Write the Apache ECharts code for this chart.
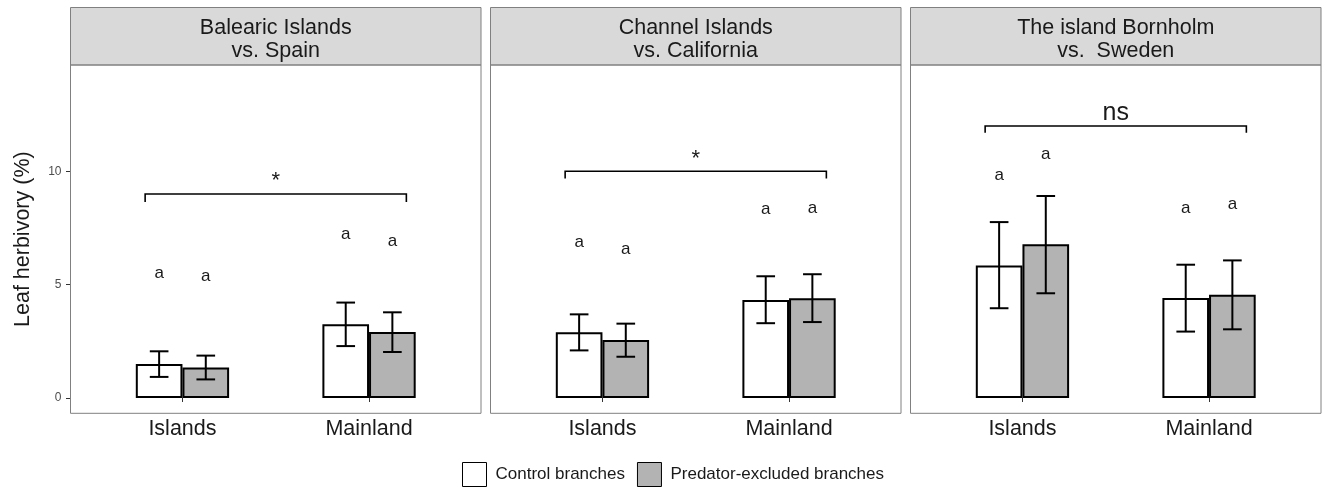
<!DOCTYPE html>
<html><head><meta charset="utf-8">
<script src="https://cdn.jsdelivr.net/npm/echarts@6/dist/echarts.min.js"></script>
<style>html,body{margin:0;padding:0;background:#fff}#c{width:1322px;height:490px}</style>
</head><body><div id="c"></div><script>
// ---------- data ----------
const categories = ['Islands', 'Mainland'];
const panelTitles = ['Balearic Islands\nvs. Spain', 'Channel Islands\nvs. California', 'The island Bornholm\nvs.  Sweden'];
const seriesNames = ['Control branches', 'Predator-excluded branches'];
const controlMean = [[1.50, 3.25], [2.90, 4.32], [5.85, 4.41]];
const controlLow  = [[0.93, 2.29], [2.10, 3.30], [3.96, 2.93]];
const controlHigh = [[2.06, 4.21], [3.69, 5.37], [7.76, 5.88]];
const predMean    = [[1.35, 2.91], [2.56, 4.40], [6.78, 4.56]];
const predLow     = [[0.82, 2.03], [1.82, 3.35], [4.62, 3.03]];
const predHigh    = [[1.87, 3.78], [3.28, 5.46], [8.91, 6.07]];
const letterControlY = [[5.43, 7.15], [6.82, 8.25], [9.76, 8.32]];
const letterPredY    = [[5.28, 6.84], [6.48, 8.32], [10.69, 8.47]];
const letterText = 'a';
const bracketTop  = [9.0, 10.0, 12.0];
const bracketFoot = [8.65, 9.68, 11.7];
const sigLabels = ['*', '*', 'ns'];
const sigY = [9.79, 10.79, 12.48];
const yTicks = [0, 5, 10];
const yMin = -0.675, yMax = 14.69;

// ---------- layout ----------
const FONT = '"Liberation Sans", Arial, sans-serif';
const PANEL_LEFT = [70.5, 490.5, 910.5];
const PANEL_W = 410.5;
const PLOT_TOP = 65, PLOT_BOTTOM = 413.3, STRIP_TOP = 7.5;
const unit = PANEL_W / 2.2;

const chart = echarts.init(document.getElementById('c'), null, {renderer: 'canvas'});

const grids = [], xAxes = [], yAxes = [], series = [], graphics = [];

function errRender(params, api) {
  const ci = api.value(0), lo = api.value(1), hi = api.value(2), side = api.value(3);
  const bw = api.size([1, 0])[0];
  const x = api.coord([ci, 0])[0] + side * 0.125 * bw;
  const yl = api.coord([ci, lo])[1], yh = api.coord([ci, hi])[1];
  const cw = 0.05 * bw;
  const st = {stroke: '#000', lineWidth: 2};
  return {type: 'group', children: [
    {type: 'line', shape: {x1: x, y1: yl, x2: x, y2: yh}, style: st},
    {type: 'line', shape: {x1: x - cw, y1: yh, x2: x + cw, y2: yh}, style: st},
    {type: 'line', shape: {x1: x - cw, y1: yl, x2: x + cw, y2: yl}, style: st}
  ]};
}
function letterRender(params, api) {
  const ci = api.value(0), yv = api.value(1), side = api.value(2);
  const bw = api.size([1, 0])[0];
  const x = api.coord([ci, 0])[0] + side * 0.125 * bw;
  const y = api.coord([ci, yv])[1];
  return {type: 'text', style: {text: letterText, x: x, y: y - 1.5, align: 'center', verticalAlign: 'middle',
    fontSize: 17, fontFamily: FONT, fill: '#1a1a1a'}};
}
function makeBracketRender(label) {
  return function (params, api) {
    const top = api.value(0), foot = api.value(1), ly = api.value(2);
    const bw = api.size([1, 0])[0];
    const x0 = api.coord([0, 0])[0] - 0.2 * bw, x1 = api.coord([1, 0])[0] + 0.2 * bw;
    const yt = api.coord([0, top])[1], yf = api.coord([0, foot])[1];
    const yl = api.coord([0, ly])[1];
    const fs = label === '*' ? 22 : 25;
    const dy = label === '*' ? 0.23 * fs : -0.086 * fs;
    return {type: 'group', children: [
      {type: 'polyline', shape: {points: [[x0, yf], [x0, yt], [x1, yt], [x1, yf]]},
        style: {stroke: '#000', lineWidth: 1.6, fill: null}},
      {type: 'text', style: {text: label, x: (x0 + x1) / 2, y: yl + dy, align: 'center', verticalAlign: 'middle',
        fontSize: fs, fontFamily: FONT, fill: '#1a1a1a'}}
    ]};
  };
}

for (let p = 0; p < 3; p++) {
  const PL = PANEL_LEFT[p];
  const gl = PL + 0.1 * unit;
  grids.push({left: gl, width: 2 * unit, top: PLOT_TOP, height: PLOT_BOTTOM - PLOT_TOP, containLabel: false});
  xAxes.push({type: 'category', gridIndex: p, data: categories,
    axisLine: {show: false},
    axisTick: {show: true, alignWithLabel: true, length: 4, lineStyle: {color: '#333', width: 1}},
    axisLabel: {fontSize: 21.5, color: '#1a1a1a', fontFamily: FONT, margin: 5},
    splitLine: {show: false}});
  yAxes.push({type: 'value', gridIndex: p, min: yMin, max: yMax, offset: 0.1 * unit,
    show: p === 0,
    name: p === 0 ? 'Leaf herbivory (%)' : '', nameLocation: 'middle', nameRotate: 90, nameGap: 36,
    nameTextStyle: {fontSize: 21.5, color: '#1a1a1a', fontFamily: FONT},
    axisLine: {show: false},
    axisTick: {show: true, length: 4.5, customValues: yTicks, lineStyle: {color: '#333', width: 1}},
    axisLabel: {show: true, customValues: yTicks, fontSize: 12, color: '#4d4d4d', fontFamily: FONT, margin: 9},
    splitLine: {show: false}, minorTick: {show: false}});

  series.push({name: seriesNames[0], type: 'bar', xAxisIndex: p, yAxisIndex: p, data: controlMean[p],
    barWidth: '25%', barGap: '0%', itemStyle: {color: '#ffffff', borderColor: '#000', borderWidth: 2}, z: 2, silent: true});
  series.push({name: seriesNames[1], type: 'bar', xAxisIndex: p, yAxisIndex: p, data: predMean[p],
    barWidth: '25%', barGap: '0%', itemStyle: {color: '#b3b3b3', borderColor: '#000', borderWidth: 2}, z: 2, silent: true});

  const errData = [];
  for (let c = 0; c < 2; c++) {
    errData.push([c, controlLow[p][c], controlHigh[p][c], -1]);
    errData.push([c, predLow[p][c], predHigh[p][c], 1]);
  }
  series.push({type: 'custom', xAxisIndex: p, yAxisIndex: p, renderItem: errRender, data: errData,
    encode: {x: 0, y: [1, 2]}, z: 5, silent: true});

  const letData = [];
  for (let c = 0; c < 2; c++) {
    letData.push([c, letterControlY[p][c], -1]);
    letData.push([c, letterPredY[p][c], 1]);
  }
  series.push({type: 'custom', xAxisIndex: p, yAxisIndex: p, renderItem: letterRender, data: letData,
    encode: {x: 0, y: 1}, z: 5, silent: true});

  series.push({type: 'custom', xAxisIndex: p, yAxisIndex: p, renderItem: makeBracketRender(sigLabels[p]),
    data: [[bracketTop[p], bracketFoot[p], sigY[p]]], encode: {y: [0, 1, 2]}, z: 5, silent: true});

  // strip + panel border
  graphics.push({type: 'rect', shape: {x: PL, y: STRIP_TOP, width: PANEL_W, height: PLOT_TOP - STRIP_TOP},
    style: {fill: '#d9d9d9', stroke: '#808080', lineWidth: 1}, z: 0, silent: true});
  graphics.push({type: 'text', x: PL + PANEL_W / 2, y: 39.5, style: {text: panelTitles[p], align: 'center', verticalAlign: 'middle',
    fontSize: 21.5, lineHeight: 23.5, fontFamily: FONT, fill: '#1a1a1a'}, z: 1, silent: true});
  graphics.push({type: 'rect', shape: {x: PL, y: PLOT_TOP, width: PANEL_W, height: PLOT_BOTTOM - PLOT_TOP},
    style: {fill: null, stroke: '#808080', lineWidth: 1}, z: 100, silent: true});
}

chart.setOption({
  animation: false,
  backgroundColor: '#ffffff',
  grid: grids, xAxis: xAxes, yAxis: yAxes, series: series,
  graphic: {elements: graphics},
  legend: {left: 462, top: 462, itemWidth: 24, itemHeight: 24, itemGap: 12, padding: 0,
    icon: 'rect',
    data: [
      {name: seriesNames[0], itemStyle: {color: '#ffffff', borderColor: '#000', borderWidth: 1}},
      {name: seriesNames[1], itemStyle: {color: '#b3b3b3', borderColor: '#000', borderWidth: 1}}
    ],
    textStyle: {fontSize: 17, color: '#1a1a1a', fontFamily: FONT, padding: [0, 0, 0, 4]}}
});
</script></body></html>
